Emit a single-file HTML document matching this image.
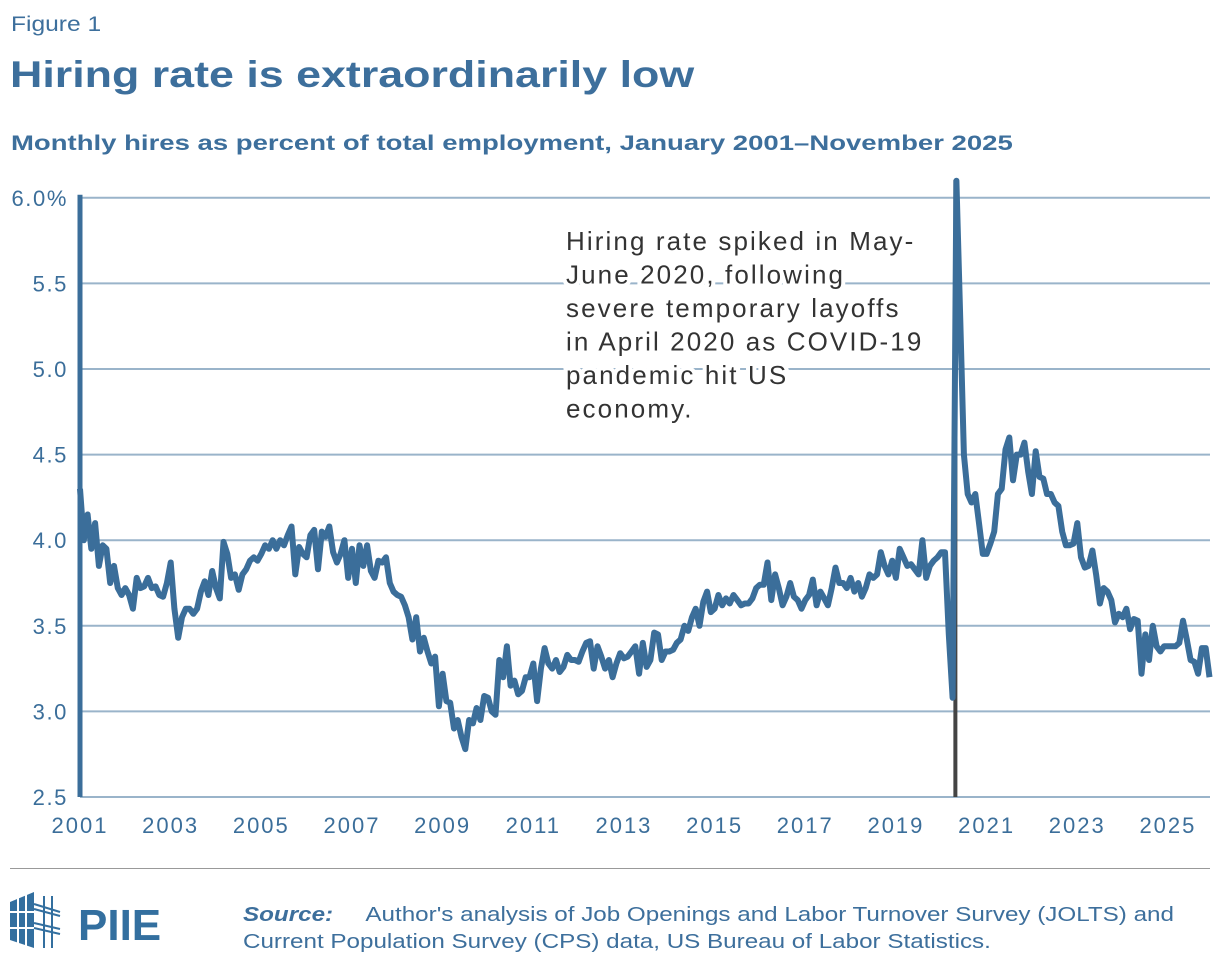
<!DOCTYPE html>
<html><head><meta charset="utf-8"><style>
body{margin:0;background:#fff;font-family:"Liberation Sans",sans-serif;}
#wrap{position:relative;width:1220px;height:968px;overflow:hidden;}
.t{position:absolute;white-space:nowrap;transform-origin:0 0;}
</style></head><body>
<div id="wrap">
<div class="t" style="left:11px;top:13px;font-size:21px;color:#3d6f9c;transform:scaleX(1.17);">Figure 1</div>
<div class="t" style="left:10px;top:54px;font-size:37px;font-weight:bold;color:#3d6f9c;transform:scaleX(1.21);">Hiring rate is extraordinarily low</div>
<div class="t" style="left:11px;top:131px;font-size:21.5px;font-weight:bold;color:#3d6f9c;transform:scaleX(1.28);">Monthly hires as percent of total employment, January 2001–November 2025</div>
<svg id="chart" width="1220" height="968" style="position:absolute;left:0;top:0;"></svg>
<div style="position:absolute;left:10px;top:868px;width:1200px;height:1px;background:#999;"></div>
<svg width="170" height="60" style="position:absolute;left:8px;top:890px;">
<g fill="#336f9f"><polygon points="2,12 26,2 26,58 2,50"/></g>
<g stroke="#fff" stroke-width="2"><line x1="10" y1="5" x2="10" y2="56"/><line x1="18" y1="3" x2="18" y2="57"/><line x1="0" y1="22" x2="28" y2="22"/><line x1="0" y1="38" x2="28" y2="38"/></g>
<g stroke="#336f9f" stroke-width="2"><line x1="36" y1="6" x2="36" y2="58"/><line x1="44" y1="6" x2="44" y2="58"/><line x1="26" y1="14" x2="52" y2="22"/><line x1="26" y1="19" x2="52" y2="26"/><line x1="26" y1="33" x2="52" y2="39"/><line x1="26" y1="38" x2="52" y2="44"/></g>
<text x="70" y="50" font-family="Liberation Sans" font-weight="bold" font-size="44" fill="#336f9f">PIIE</text>
</svg>
<div class="t" style="left:243px;top:902px;font-size:20px;color:#3d6f9c;line-height:27px;transform:scaleX(1.21);"><b><i>Source:</i></b>&nbsp;&nbsp;&nbsp;&nbsp; Author's analysis of Job Openings and Labor Turnover Survey (JOLTS) and<br>Current Population Survey (CPS) data, US Bureau of Labor Statistics.</div>
</div>
<script>
const yTicks=[2.5,3.0,3.5,4.0,4.5,5.0,5.5,6.0];
const yTickLabels=["2.5","3.0","3.5","4.0","4.5","5.0","5.5","6.0%"];
const xTicks=[2001,2003,2005,2007,2009,2011,2013,2015,2017,2019,2021,2023,2025];
const startYear=2001;
const hires=[
4.3,4.0,4.15,3.95,4.1,3.85,3.97,3.95,3.75,3.85,3.72,3.68,
3.72,3.68,3.6,3.78,3.72,3.73,3.78,3.72,3.73,3.68,3.67,3.75,
3.87,3.6,3.43,3.55,3.6,3.6,3.57,3.6,3.7,3.76,3.68,3.82,
3.72,3.66,3.99,3.92,3.78,3.8,3.71,3.8,3.83,3.88,3.9,3.88,
3.92,3.97,3.95,4.0,3.95,4.0,3.97,4.03,4.08,3.8,3.96,3.92,
3.9,4.03,4.06,3.83,4.05,4.02,4.08,3.93,3.87,3.92,4.0,3.78,
3.95,3.75,3.97,3.85,3.97,3.82,3.78,3.88,3.87,3.9,3.75,3.7,
3.68,3.67,3.62,3.55,3.42,3.55,3.35,3.43,3.35,3.28,3.32,3.03,
3.22,3.06,3.05,2.9,2.95,2.85,2.78,2.95,2.93,3.02,2.95,3.09,
3.08,3.0,2.98,3.3,3.2,3.38,3.15,3.18,3.1,3.12,3.2,3.2,
3.28,3.06,3.25,3.37,3.28,3.25,3.3,3.23,3.26,3.33,3.3,3.3,
3.29,3.35,3.4,3.41,3.25,3.38,3.32,3.25,3.3,3.2,3.28,3.34,
3.31,3.32,3.35,3.38,3.22,3.4,3.26,3.3,3.46,3.45,3.3,3.35,
3.35,3.36,3.4,3.42,3.5,3.47,3.55,3.6,3.5,3.64,3.7,3.58,
3.6,3.68,3.62,3.66,3.63,3.68,3.65,3.62,3.63,3.63,3.66,3.72,
3.74,3.74,3.87,3.65,3.8,3.72,3.62,3.67,3.75,3.67,3.65,3.6,
3.65,3.68,3.77,3.62,3.7,3.66,3.62,3.72,3.84,3.75,3.75,3.72,
3.78,3.7,3.75,3.67,3.72,3.8,3.78,3.8,3.93,3.85,3.8,3.88,
3.78,3.95,3.9,3.85,3.86,3.83,3.8,4.0,3.78,3.85,3.88,3.9,
3.93,3.93,3.45,3.08,6.1,5.3,4.5,4.27,4.22,4.27,4.1,3.92,
3.92,3.98,4.05,4.27,4.3,4.53,4.6,4.35,4.5,4.5,4.57,4.4,
4.27,4.52,4.37,4.36,4.27,4.27,4.22,4.2,4.05,3.97,3.97,3.98,
4.1,3.9,3.84,3.85,3.94,3.8,3.63,3.72,3.7,3.65,3.52,3.57,
3.55,3.6,3.48,3.54,3.53,3.22,3.45,3.3,3.5,3.38,3.35,3.38,
3.38,3.38,3.38,3.4,3.53,3.42,3.3,3.29,3.22,3.37,3.37,3.2];
const annotationLines=["Hiring rate spiked in May-","June 2020, following","severe temporary layoffs","in April 2020 as COVID-19","pandemic hit US","economy."];
const covidMonth=2020+4/12;

const NS="http://www.w3.org/2000/svg";
const svg=document.getElementById('chart');
const X0=80,XPY=45.33,Y0=797,YPU=171.2;
const xs=t=>X0+(t-startYear)*XPY;
const ys=v=>Y0-(v-2.5)*YPU;
function mk(tag,attrs,parent){const e=document.createElementNS(NS,tag);for(const k in attrs)e.setAttribute(k,attrs[k]);(parent||svg).appendChild(e);return e;}
yTicks.forEach((v,i)=>{
 const g=mk('line',{x1:X0,x2:1210,y1:ys(v),y2:ys(v),stroke:'#9ab4ca','stroke-width':2});
 
 
 const t=mk('text',{x:68,y:ys(v)+8,'text-anchor':'end','font-size':22,fill:'#3b6e9a','font-family':'Liberation Sans','letter-spacing':1.6});
 t.textContent=yTickLabels[i];
 
 
});
xTicks.forEach(yr=>{
 const t=mk('text',{x:xs(yr),y:833,'text-anchor':'middle','font-size':22,fill:'#3b6e9a','font-family':'Liberation Sans','letter-spacing':2});
 t.textContent=yr;
 
 
});
annotationLines.forEach((s,i)=>{
 const y=250+i*33.5;
 const t=mk('text',{x:566,y:y,'font-size':26,fill:'#333','font-family':'Liberation Sans',stroke:'#fff','stroke-width':8,'paint-order':'stroke','letter-spacing':2.1});
 t.textContent=s;
 
 
});
const ax=mk('line',{x1:X0,x2:X0,y1:ys(6.0)-3,y2:Y0,stroke:'#3b6e9a','stroke-width':5});


const cv=mk('line',{x1:xs(covidMonth)-1,x2:xs(covidMonth)-1,y1:180,y2:Y0,stroke:'#444','stroke-width':4});


const pts=hires.map((v,i)=>xs(startYear+i/12).toFixed(1)+','+ys(v).toFixed(1)).join(' ');
const ln=mk('polyline',{points:pts,fill:'none',stroke:'#3b6e9a','stroke-width':6,'stroke-linejoin':'round'});


</script>
</body></html>
